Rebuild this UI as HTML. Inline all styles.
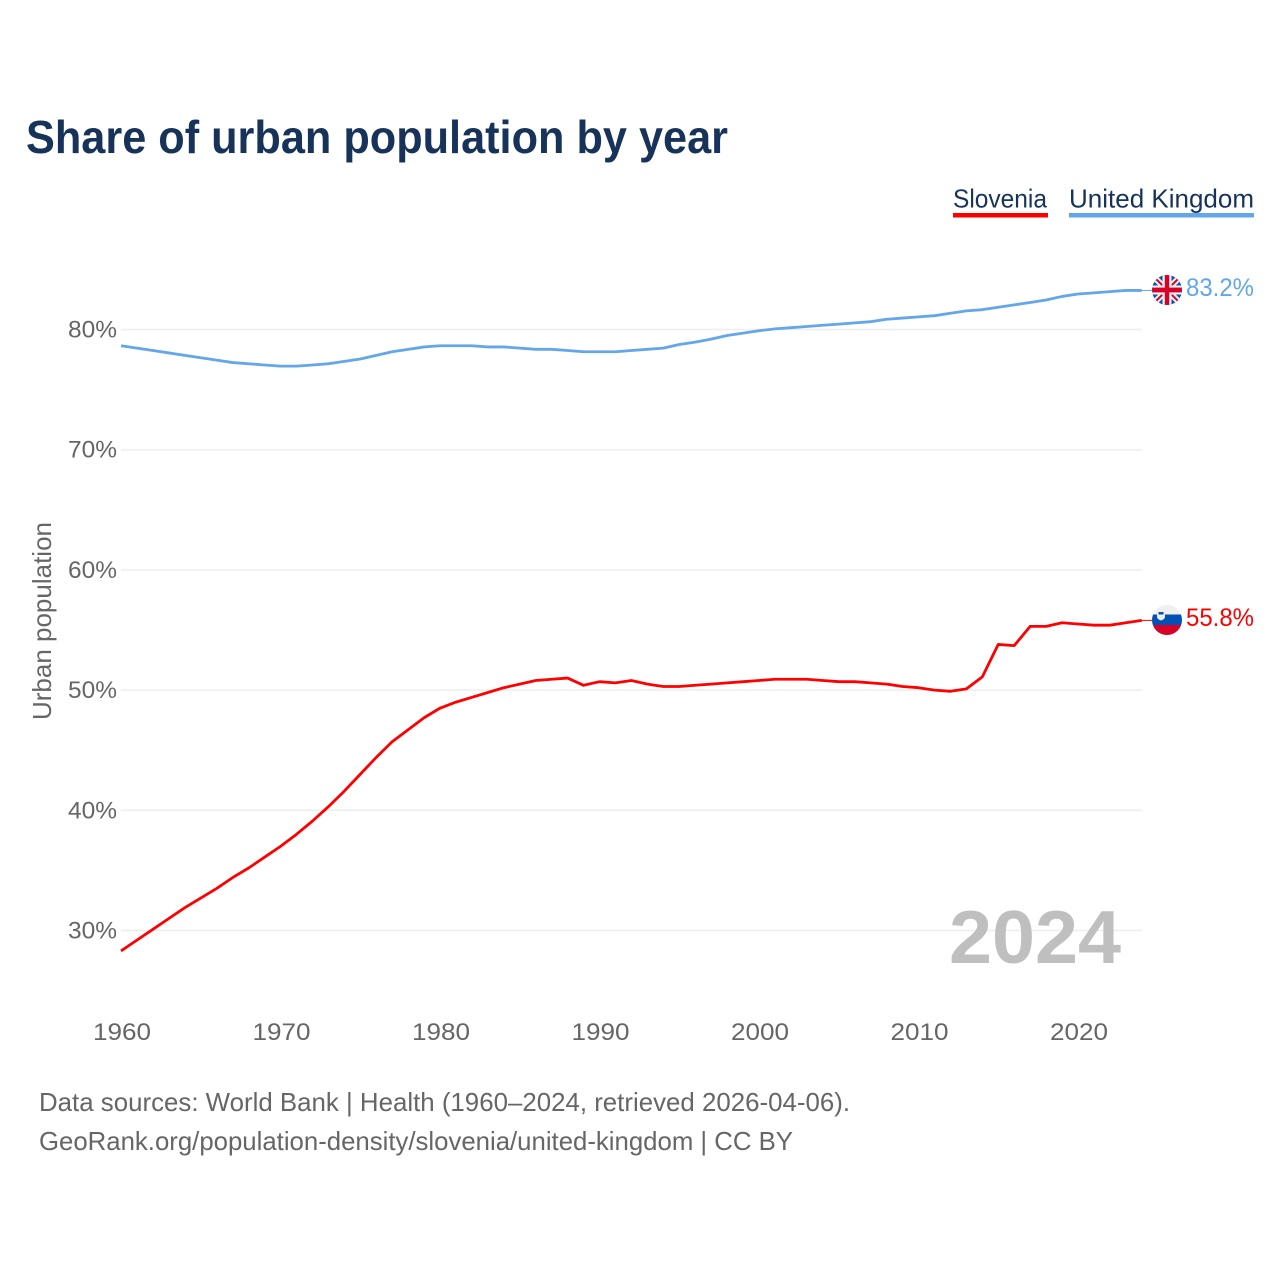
<!DOCTYPE html>
<html>
<head>
<meta charset="utf-8">
<title>Share of urban population by year</title>
<style>
html,body{margin:0;padding:0;background:#fff;width:1280px;height:1280px;overflow:hidden}
svg{display:block}
text{font-family:"Liberation Sans",sans-serif}
</style>
</head>
<body>
<svg id="chart" xmlns="http://www.w3.org/2000/svg" width="1280" height="1280" viewBox="0 0 1280 1280">
  <defs>
    <clipPath id="flag-clip-uk"><circle cx="1167" cy="290" r="15"/></clipPath>
    <clipPath id="flag-clip-si"><circle cx="1167" cy="620" r="15"/></clipPath>
  </defs>
  <rect x="0" y="0" width="1280" height="1280" fill="#fff"/>
  <text x="26" y="153" font-size="46" font-weight="700" fill="#17335a" textLength="702" lengthAdjust="spacingAndGlyphs">Share of urban population by year</text>

  <text x="953" y="207.500" font-size="26" fill="#17335a" textLength="94" lengthAdjust="spacingAndGlyphs">Slovenia</text>
  <rect x="953" y="213" width="95" height="4.500" fill="#ff0000"/>
  <text x="1069" y="207.500" font-size="26" fill="#17335a" textLength="185" lengthAdjust="spacingAndGlyphs">United Kingdom</text>
  <rect x="1069" y="213" width="185" height="4.500" fill="#63a6ea"/>

  <g id="grid"></g>
  <g id="y-axis"></g>
  <g id="x-axis"></g>
  <text transform="translate(51 720) rotate(-90)" x="0" y="0" font-size="26" fill="#666" textLength="198" lengthAdjust="spacingAndGlyphs">Urban population</text>

  <text x="949" y="963" font-size="75" font-weight="700" fill="#bfbfbf" textLength="172" lengthAdjust="spacingAndGlyphs">2024</text>

  <g id="series"></g>

  <g clip-path="url(#flag-clip-uk)">
    <rect x="1152" y="275" width="30" height="30" fill="#0f52b0"/>
    <line x1="1152" y1="275" x2="1182" y2="305" stroke="#f0f0f0" stroke-width="6"/>
    <line x1="1182" y1="275" x2="1152" y2="305" stroke="#f0f0f0" stroke-width="6"/>
    <line x1="1152" y1="275" x2="1182" y2="305" stroke="#d80027" stroke-width="2"/>
    <line x1="1182" y1="275" x2="1152" y2="305" stroke="#d80027" stroke-width="2"/>
    <rect x="1162.500" y="275" width="9" height="30" fill="#f0f0f0"/>
    <rect x="1152" y="285.500" width="30" height="9" fill="#f0f0f0"/>
    <rect x="1164.800" y="275" width="4.400" height="30" fill="#d80027"/>
    <rect x="1152" y="287.600" width="30" height="4.800" fill="#d80027"/>
  </g>
  <g clip-path="url(#flag-clip-si)">
    <rect x="1152" y="605" width="30" height="9.500" fill="#f0f0f0"/>
    <rect x="1152" y="614.500" width="30" height="10.500" fill="#0052b4"/>
    <rect x="1152" y="625" width="30" height="10" fill="#d80027"/>
    <path d="M1157 612h8v4.500q0 2.800-4 4q-4-1.200-4-4z" fill="#f0f0f0"/>
    <rect x="1158.500" y="612" width="5" height="2.500" fill="#0052b4"/>
  </g>

  <text x="1186" y="296" font-size="25" fill="#63a6ea" textLength="68" lengthAdjust="spacingAndGlyphs">83.2%</text>
  <text x="1186" y="626" font-size="25" fill="#ff0000" textLength="68" lengthAdjust="spacingAndGlyphs">55.8%</text>

  <text x="39" y="1111" font-size="26" fill="#666" textLength="811" lengthAdjust="spacingAndGlyphs">Data sources: World Bank | Health (1960–2024, retrieved 2026-04-06).</text>
  <text x="39" y="1150" font-size="26" fill="#666" textLength="754" lengthAdjust="spacingAndGlyphs">GeoRank.org/population-density/slovenia/united-kingdom | CC BY</text>
</svg>
<script>
const yTickValues = [30, 40, 50, 60, 70, 80];
const xTickValues = [1960, 1970, 1980, 1990, 2000, 2010, 2020];
const startYear = 1960;
const sloveniaValues = [
  28.3, 29.2, 30.1, 31.0, 31.9, 32.7, 33.5, 34.4, 35.2, 36.1,
  37.0, 38.0, 39.1, 40.3, 41.6, 43.0, 44.4, 45.7, 46.7, 47.7,
  48.5, 49.0, 49.4, 49.8, 50.2, 50.5, 50.8, 50.9, 51.0, 50.4,
  50.7, 50.6, 50.8, 50.5, 50.3, 50.3, 50.4, 50.5, 50.6, 50.7,
  50.8, 50.9, 50.9, 50.9, 50.8, 50.7, 50.7, 50.6, 50.5, 50.3,
  50.2, 50.0, 49.9, 50.1, 51.1, 53.8, 53.7, 55.3, 55.3, 55.6,
  55.5, 55.4, 55.4, 55.6, 55.8
];
const ukValues = [
  78.65, 78.45, 78.25, 78.05, 77.85, 77.65, 77.45, 77.25, 77.15, 77.05,
  76.95, 76.95, 77.05, 77.15, 77.35, 77.55, 77.85, 78.15, 78.35, 78.55,
  78.65, 78.65, 78.65, 78.55, 78.55, 78.45, 78.35, 78.35, 78.25, 78.15,
  78.15, 78.15, 78.25, 78.35, 78.45, 78.75, 78.95, 79.2, 79.5, 79.7,
  79.9, 80.05, 80.15, 80.25, 80.35, 80.45, 80.55, 80.65, 80.85, 80.95,
  81.05, 81.15, 81.35, 81.55, 81.65, 81.85, 82.05, 82.25, 82.45, 82.75,
  82.95, 83.05, 83.15, 83.25, 83.25
];

const NS = 'http://www.w3.org/2000/svg';
function xScale(year) { return 121 + (year - 1960) * 15.95; }
function yScale(pct) { return 329.5 + (80 - pct) * 12.02; }

function pathFor(values) {
  return values.map(function (v, i) {
    return (i ? 'L' : 'M') + xScale(startYear + i).toFixed(2) + ' ' + yScale(v).toFixed(2);
  }).join(' ');
}

const gridGroup = document.getElementById('grid');
const yAxisGroup = document.getElementById('y-axis');
const xAxisGroup = document.getElementById('x-axis');
const seriesGroup = document.getElementById('series');

yTickValues.forEach(function (t) {
  const line = document.createElementNS(NS, 'line');
  
  
  line.setAttribute('x1', 121);
  line.setAttribute('x2', 1142);
  line.setAttribute('y1', yScale(t));
  line.setAttribute('y2', yScale(t));
  line.setAttribute('stroke', '#eeeeee');
  line.setAttribute('stroke-width', '1.5');
  gridGroup.appendChild(line);

  const label = document.createElementNS(NS, 'text');
  
  
  label.setAttribute('x', 68);
  label.setAttribute('y', yScale(t) + 8);
  label.setAttribute('font-size', '24');
  label.setAttribute('fill', '#666');
  label.setAttribute('textLength', '49');
  label.setAttribute('lengthAdjust', 'spacingAndGlyphs');
  label.textContent = t + '%';
  yAxisGroup.appendChild(label);
});

xTickValues.forEach(function (t) {
  const label = document.createElementNS(NS, 'text');
  
  
  label.setAttribute('x', xScale(t) - 28);
  label.setAttribute('y', 1040);
  label.setAttribute('font-size', '24');
  label.setAttribute('fill', '#666');
  label.setAttribute('textLength', '58');
  label.setAttribute('lengthAdjust', 'spacingAndGlyphs');
  label.textContent = t;
  xAxisGroup.appendChild(label);
});

const ukLine = document.createElementNS(NS, 'path');


ukLine.setAttribute('d', pathFor(ukValues));
ukLine.setAttribute('fill', 'none');
ukLine.setAttribute('stroke', '#63a6ea');
ukLine.setAttribute('stroke-width', '2.8');
ukLine.setAttribute('stroke-linejoin', 'round');
seriesGroup.appendChild(ukLine);

const siLine = document.createElementNS(NS, 'path');


siLine.setAttribute('d', pathFor(sloveniaValues));
siLine.setAttribute('fill', 'none');
siLine.setAttribute('stroke', '#ff0000');
siLine.setAttribute('stroke-width', '2.8');
siLine.setAttribute('stroke-linejoin', 'round');
seriesGroup.appendChild(siLine);

const ukLast = ukValues[ukValues.length - 1];
const ukConnector = document.createElementNS(NS, 'line');


ukConnector.setAttribute('x1', xScale(2024));
ukConnector.setAttribute('x2', 1153);
ukConnector.setAttribute('y1', yScale(ukLast));
ukConnector.setAttribute('y2', yScale(ukLast));
ukConnector.setAttribute('stroke', '#63a6ea');
ukConnector.setAttribute('stroke-width', '1');
seriesGroup.appendChild(ukConnector);

const siLast = sloveniaValues[sloveniaValues.length - 1];
const siConnector = document.createElementNS(NS, 'line');


siConnector.setAttribute('x1', xScale(2024));
siConnector.setAttribute('x2', 1153);
siConnector.setAttribute('y1', yScale(siLast));
siConnector.setAttribute('y2', yScale(siLast));
siConnector.setAttribute('stroke', '#ff0000');
siConnector.setAttribute('stroke-width', '1');
seriesGroup.appendChild(siConnector);
</script>
</body>
</html>
